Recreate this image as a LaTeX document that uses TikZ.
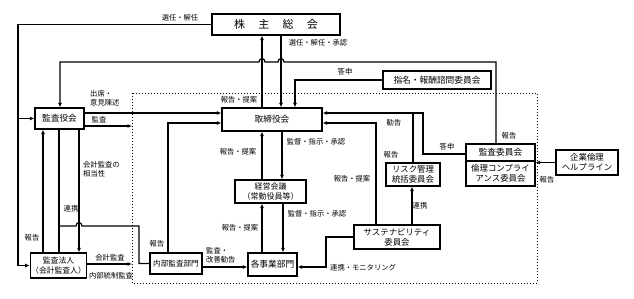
\documentclass[tikz,border=0pt]{standalone}
\usepackage{fontspec}
\setmainfont{Noto Sans CJK JP}
\usepackage{tikz}
\usetikzlibrary{positioning,arrows.meta,calc}

\tikzset{
  box/.style={draw, line width=1.3pt, align=center, inner sep=1pt,
    font=\fontsize{8.7}{10}\selectfont},
  lbl/.style={inner sep=0pt, align=left, font=\fontsize{7.3}{9}\selectfont},
  conn/.style={line width=1.2pt},
  arr/.style={conn, -{Latex[length=4.5pt,width=4pt]}}
}

\begin{document}
\begin{tikzpicture}[x=1pt,y=-1pt]
  \useasboundingbox (0,0) rectangle (634,298);

  % area of execution
  \coordinate (dotnw) at (132,93);
  \coordinate (dotse) at (537,283);
  \draw[dotted, line width=1pt] (dotnw) rectangle (dotse);

  % boxes
  \node[box, minimum width=128pt, minimum height=21pt, font=\fontsize{11}{12}\selectfont]
    (kabu) at (276,24.5) {株\hspace{1.2em}主\hspace{1.2em}総\hspace{1.2em}会};
  \node[box, minimum width=49pt, minimum height=21pt] (kansayaku) at (59.5,118.5) {監査役会};
  \node[box, minimum width=100pt, minimum height=23pt] (torishimari) at (272,119.5) {取締役会};
  \node[box, minimum width=71pt, minimum height=23pt, font=\fontsize{8}{9.5}\selectfont]
    (keiei) at (270.5,191.5) {経営会議\\（常勤役員等）};
  \node[box, minimum width=49pt, minimum height=23pt] (jigyo) at (272.5,264.5) {各事業部門};
  \node[box, minimum width=52pt, minimum height=21pt, font=\fontsize{7.6}{9}\selectfont]
    (naibu) at (176,263.5) {内部監査部門};
  \node[box, minimum width=53pt, minimum height=25pt, font=\fontsize{7.8}{9.5}\selectfont]
    (hojin) at (58.5,265.5) {監査法人\\（会計監査人）};
  \node[box, minimum width=108pt, minimum height=18pt] (shimei) at (437,80) {指名・報酬諮問委員会};
  \node[box, minimum width=69pt, minimum height=17pt] (kansaiin) at (500.5,152.5) {監査委員会};
  \node[box, minimum width=69pt, minimum height=25pt, font=\fontsize{8.4}{10}\selectfont]
    (rinri) at (500.5,173.5) {倫理コンプライ\\アンス委員会};
  \node[box, minimum width=62pt, minimum height=25pt, font=\fontsize{8.4}{10}\selectfont]
    (help) at (587,162.5) {企業倫理\\ヘルプライン};
  \node[box, minimum width=54pt, minimum height=23pt, font=\fontsize{8.4}{10}\selectfont]
    (risk) at (413,174.5) {リスク管理\\統括委員会};
  \node[box, minimum width=86pt, minimum height=24pt, font=\fontsize{8.4}{10}\selectfont]
    (sus) at (397,237) {サステナビリティ\\委員会};

  % shareholders -> audit board / audit firm
  \coordinate (trunk) at (18,0 |- kabu.west);
  \draw[arr] (kabu.west) -- (trunk) |- (hojin.west);
  \draw[arr] (trunk |- kansayaku.west) -- (kansayaku.west);
  \node[lbl] (l1) at (180,18) {選任・解任};

  % shareholders <-> board
  \draw[arr] (262,0 |- torishimari.north) -- (262,0 |- kabu.south);
  \draw[arr] (281,0 |- kabu.south) -- (281,0 |- torishimari.north);
  \node[lbl] (l2) at (239,100) {報告・提案};
  \node[lbl] (l3) at (318,43) {選任・解任・承認};

  % audit committee report -> audit board
  \draw[arr] (496,0 |- kansaiin.north) -- (496,62) -- (284,62)
    .. controls (284,57.5) and (278,57.5) .. (278,62) -- (265,62)
    .. controls (265,57.5) and (259,57.5) .. (259,62) -- (60,62)
    -- (60,0 |- kansayaku.north);
  \node[lbl] (l4) at (509,136) {報告};

  % nomination committee
  \draw[arr] (shimei.west) -| (295,0 |- torishimari.north);
  \node[lbl] (l5) at (345,72) {答申};

  % audit board -> board, audit
  \draw[arr] (kansayaku.east |- 0,113) -- (torishimari.west |- 0,113);
  \draw[arr] (kansayaku.east |- 0,126) -- (dotnw |- 0,126);
  \node[lbl, anchor=west] (l6) at (90,98) {出席・\\意見陳述};
  \node[lbl] (l7) at (99,120) {監査};

  % internal audit -> board
  \draw[arr] (168,0 |- naibu.north) |- (torishimari.west |- 0,123);
  \node[lbl] (l8) at (157,244) {報告};

  % board <-> management meeting
  \draw[arr] (262,0 |- keiei.north) -- (262,0 |- torishimari.south);
  \draw[arr] (282,0 |- torishimari.south) -- (282,0 |- keiei.north);
  \node[lbl] (l9) at (238,152) {報告・提案};
  \node[lbl] (l10) at (316,142) {監督・指示・承認};

  % management meeting <-> divisions
  \draw[arr] (262,0 |- jigyo.north) -- (262,0 |- keiei.south);
  \draw[arr] (283,0 |- keiei.south) -- (283,0 |- jigyo.north);
  \node[lbl] (l11) at (240,228) {報告・提案};
  \node[lbl] (l12) at (317,214) {監督・指示・承認};

  % internal audit -> divisions
  \draw[arr] (naibu.east |- 0,267) -- (jigyo.west |- 0,267);
  \node[lbl, anchor=west] (l13) at (206,255.5) {監査・\\改善勧告};

  % audit firm
  \draw[arr] (hojin.east |- 0,264) -- (dotnw |- 0,264);
  \node[lbl] (l14) at (110,258) {会計監査};
  \node[lbl] (l15) at (111,276) {内部統制監査};

  % audit board <-> audit firm
  \draw[arr] (43,0 |- hojin.north) -- (43,0 |- kansayaku.south);
  \draw[conn] (59,0 |- kansayaku.south) -- (59,0 |- hojin.north);
  \draw[conn] (59,226) -- (76,226) .. controls (76,221.5) and (82,221.5) .. (82,226)
    -- (139,226) |- (naibu.west);
  \draw[arr] (79,0 |- kansayaku.south) -- (79,0 |- hojin.north);
  \node[lbl] (l16) at (32,238) {報告};
  \node[lbl] (l17) at (71,209) {連携};
  \node[lbl, anchor=west] (l18) at (83,169) {会計監査の\\相当性};

  % sustainability committee
  \draw[arr] (sus.west) -- (326,0 |- sus.west) |- (jigyo.east |- 0,267);
  \node[lbl, anchor=west] (l19) at (330,268) {連携・モニタリング};
  \draw[arr] (376,0 |- sus.north) |- (torishimari.east |- 0,123);
  \node[lbl] (l20) at (352,179) {報告・提案};
  \draw[arr] (412,0 |- sus.north) -- (412,0 |- risk.south);
  \node[lbl] (l21) at (420,206) {連携};

  % risk / audit committee -> board
  \draw[arr] (kansaiin.west |- 0,154) -| (423,113) -- (torishimari.east |- 0,113);
  \draw[conn] (413,0 |- risk.north) -- (413,113);
  \node[lbl] (l22) at (394,123) {勧告};
  \node[lbl] (l23) at (391,155) {報告};
  \node[lbl] (l24) at (447,147) {答申};

  % helpline
  \draw[arr] (help.west) -- (rinri.east |- help.west);
  \node[lbl] (l25) at (547,180) {報告};
\end{tikzpicture}
\end{document}
